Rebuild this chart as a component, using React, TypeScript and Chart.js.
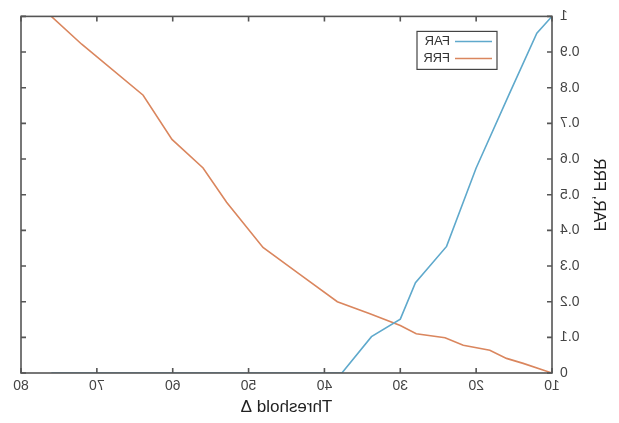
import React, { useEffect, useRef } from "react";
import { Chart, registerables } from "chart.js";

Chart.register(...registerables);

const farThreshold = [10, 12, 15.6, 20, 23.9, 28, 30, 33.8, 37.7, 76];
const farValues = [1.0, 0.953, 0.784, 0.575, 0.355, 0.253, 0.151, 0.102, 0, 0];

const frrThreshold = [10, 13.8, 16, 18.2, 21.7, 24.1, 27.9, 30, 34, 38.3, 43.2, 48.1, 52.9, 56, 60.1, 63.9, 72, 76];
const frrValues = [0, 0.027, 0.041, 0.064, 0.078, 0.099, 0.11, 0.133, 0.166, 0.2, 0.276, 0.352, 0.479, 0.575, 0.655, 0.779, 0.922, 1.0];

const seriesLabels = ["FAR", "FRR"];
const seriesColors = ["#5fa9cc", "#da865e"];
const xTicks = [10, 20, 30, 40, 50, 60, 70, 80];
const yTicks = [0, 0.1, 0.2, 0.3, 0.4, 0.5, 0.6, 0.7, 0.8, 0.9, 1];

const FONT = "'Liberation Sans', Arial, sans-serif";

const framePlugin = {
  id: "frame",
  afterDatasetsDraw(chart: any) {
    const { ctx, chartArea: a, scales } = chart;
    const xs = scales.x;
    const ys = scales.y;
    ctx.save();
    ctx.strokeStyle = "#555";
    ctx.lineWidth = 1.6;
    ctx.strokeRect(a.left, a.top, a.right - a.left, a.bottom - a.top);
    const len = 5;
    ctx.beginPath();
    xTicks.forEach((v) => {
      const px = xs.getPixelForValue(v);
      ctx.moveTo(px, a.bottom);
      ctx.lineTo(px, a.bottom - len);
      ctx.moveTo(px, a.top);
      ctx.lineTo(px, a.top + len);
    });
    yTicks.forEach((v) => {
      const py = ys.getPixelForValue(v);
      ctx.moveTo(a.left, py);
      ctx.lineTo(a.left + len, py);
      ctx.moveTo(a.right, py);
      ctx.lineTo(a.right - len, py);
    });
    ctx.stroke();

    // legend box
    const bx = a.left + 55;
    const by = a.top + 15;
    const bw = 80;
    const bh = 38;
    ctx.lineWidth = 1.2;
    ctx.strokeStyle = "#444";
    ctx.strokeRect(bx, by, bw, bh);
    ctx.font = "13px " + FONT;
    ctx.textBaseline = "middle";
    ctx.fillStyle = "#333";
    seriesLabels.forEach((lab, i) => {
      const y = by + 10 + i * 17;
      ctx.strokeStyle = seriesColors[i];
      ctx.lineWidth = 1.5;
      ctx.beginPath();
      ctx.moveTo(bx + 5, y);
      ctx.lineTo(bx + 42, y);
      ctx.stroke();
      ctx.fillText(lab, bx + 47, y);
    });
    ctx.restore();
  },
};

export default function App() {
  const ref = useRef<HTMLCanvasElement | null>(null);
  useEffect(() => {
    document.body.style.margin = "0";
    const c = ref.current;
    if (!c) return;
    const chart = new Chart(c, {
      type: "line",
      data: {
        datasets: [
          {
            label: seriesLabels[0],
            data: farThreshold.map((x, i) => ({ x, y: farValues[i] })),
            borderColor: seriesColors[0],
            borderWidth: 1.6,
            pointRadius: 0,
            tension: 0,
          },
          {
            label: seriesLabels[1],
            data: frrThreshold.map((x, i) => ({ x, y: frrValues[i] })),
            borderColor: seriesColors[1],
            borderWidth: 1.6,
            pointRadius: 0,
            tension: 0,
          },
        ],
      },
      options: {
        animation: false,
        responsive: true,
        maintainAspectRatio: false,
        layout: { padding: { left: 0, right: 21, top: 12, bottom: 0 } },
        plugins: { legend: { display: false }, tooltip: { enabled: false } },
        scales: {
          x: {
            type: "linear",
            min: 10,
            max: 80,
            afterFit: (s: any) => {
              s.height = 50;
            },
            afterBuildTicks: (s: any) => {
              s.ticks = xTicks.map((v) => ({ value: v }));
            },
            grid: { display: false, drawTicks: false },
            border: { display: false },
            ticks: {
              padding: 5,
              color: "#444",
              font: { family: FONT, size: 14 },
              maxRotation: 0,
              autoSkip: false,
            },
            title: {
              display: true,
              text: "Threshold Δ",
              color: "#222",
              font: { family: FONT, size: 17 },
              padding: { top: 0, bottom: 5 },
            },
          },
          y: {
            type: "linear",
            min: 0,
            max: 1,
            afterFit: (s: any) => {
              s.width = 67;
            },
            afterBuildTicks: (s: any) => {
              s.ticks = yTicks.map((v) => ({ value: v }));
            },
            grid: { display: false, drawTicks: false },
            border: { display: false },
            ticks: {
              padding: 8,
              color: "#444",
              font: { family: FONT, size: 14 },
              autoSkip: false,
              callback: (v: any) => String(Math.round(Number(v) * 10) / 10),
            },
            title: {
              display: true,
              text: "FAR, FRR",
              color: "#222",
              font: { family: FONT, size: 16 },
              padding: { top: 11, bottom: 0 },
            },
          },
        },
      },
      plugins: [framePlugin],
    });
    return () => chart.destroy();
  }, []);
  return (
    <div style={{ position: "absolute", left: 0, top: 0, width: 619, height: 423, background: "#fff" }}>
      <canvas ref={ref} style={{ transform: "scaleX(-1)" }} />
    </div>
  );
}
